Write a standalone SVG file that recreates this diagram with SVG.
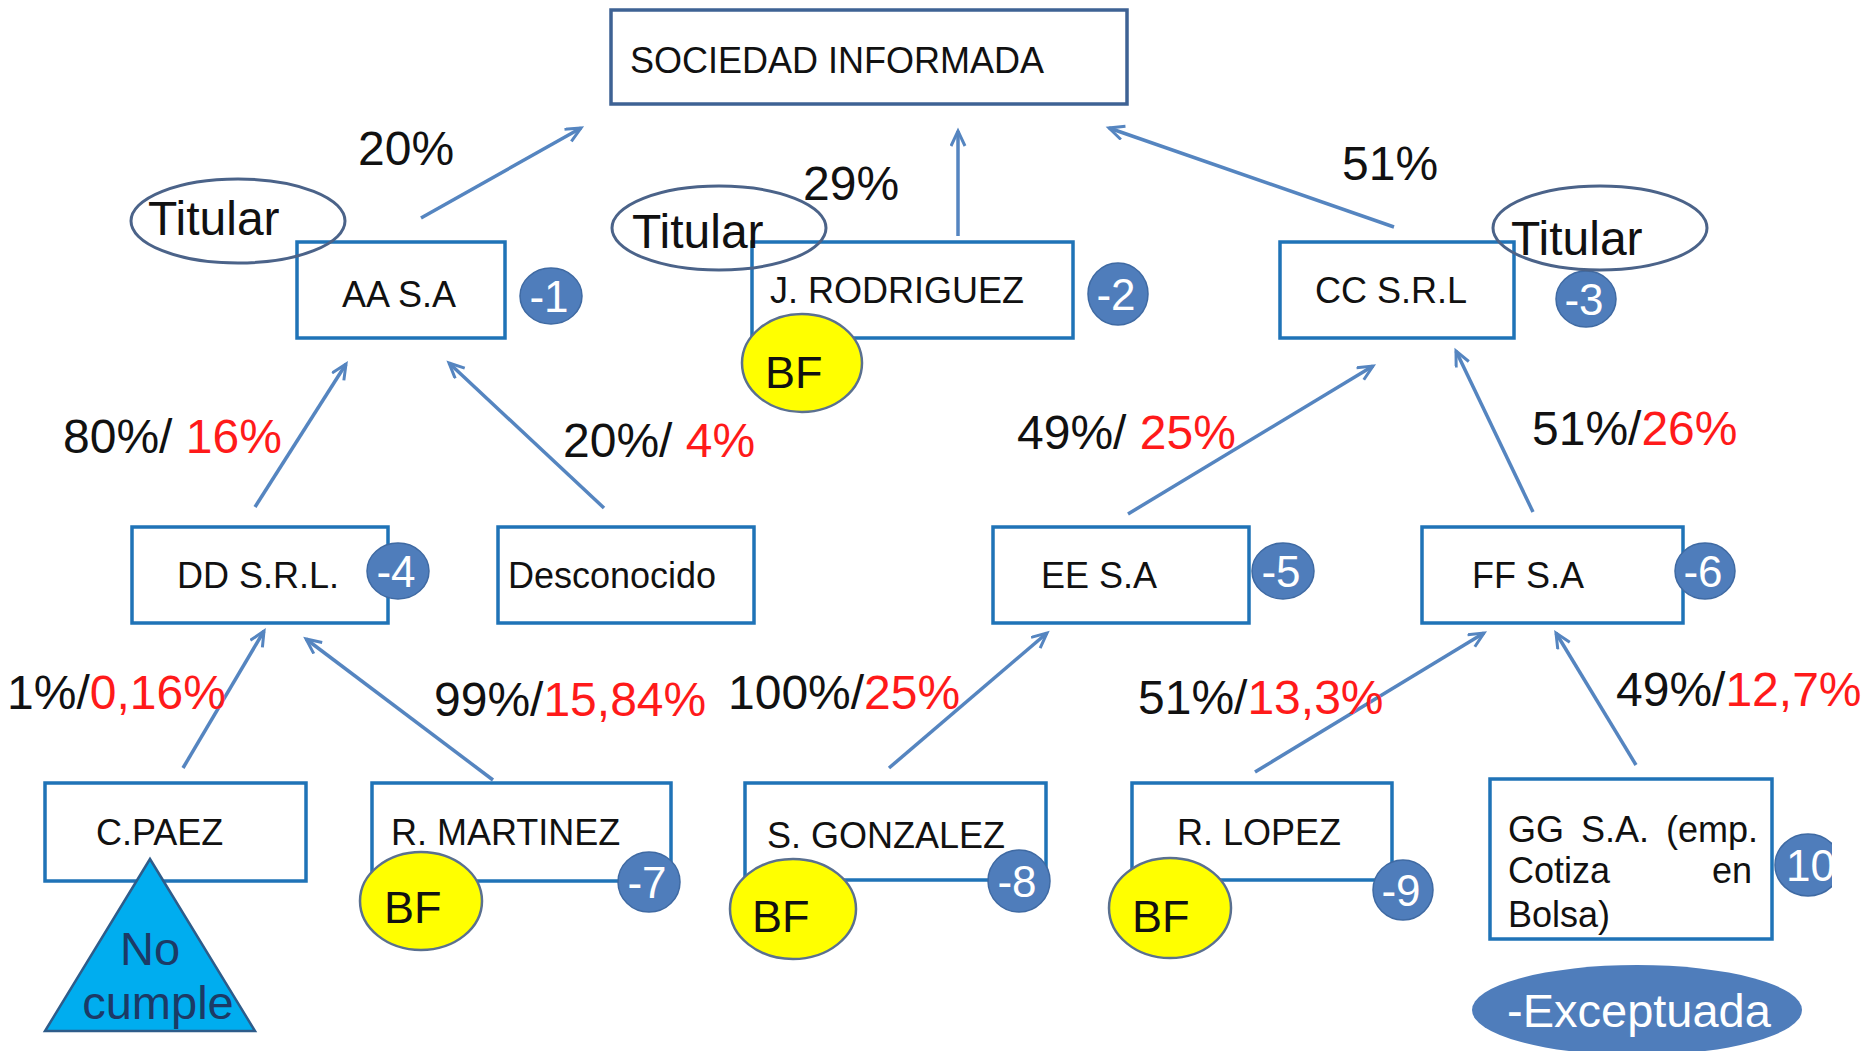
<svg xmlns="http://www.w3.org/2000/svg" width="1874" height="1051" viewBox="0 0 1874 1051">
<style>
text{font-family:"Liberation Sans",Arial,sans-serif;fill:#111}
.box{fill:#fff;stroke:#1F73B7;stroke-width:3.5}
.top{fill:#fff;stroke:#3E6294;stroke-width:3.5}
.lbl{font-size:36px}
.pct{font-size:48px}
.red{fill:#FF1A1A}
.tit{fill:none;stroke:#4B6389;stroke-width:3}
.titt{font-size:48px}
.badge{fill:#4F7DBB;stroke:#3F6AA3;stroke-width:1.5}
.bt{font-size:44px;fill:#fff;text-anchor:middle}
.bf{fill:#FFFF00;stroke:#5A7090;stroke-width:2.5}
.bft{font-size:45px}
.arr{stroke:#5585C0;stroke-width:3.5;fill:none;marker-end:url(#ah)}
</style>
<defs>
<marker id="ah" markerUnits="userSpaceOnUse" markerWidth="20" markerHeight="20" refX="16" refY="8" orient="auto">
<path d="M1,1 L16,8 L1,15" fill="none" stroke="#5585C0" stroke-width="3"/>
</marker>
<clipPath id="edge"><rect x="0" y="0" width="1832" height="1051"/></clipPath>
</defs>
<rect width="1874" height="1051" fill="#fff"/>

<g id="connectors">
<line class="arr" x1="421" y1="218" x2="581" y2="128"/>
<line class="arr" x1="958" y1="236" x2="958" y2="131"/>
<line class="arr" x1="1394" y1="227" x2="1109" y2="128"/>
<line class="arr" x1="255" y1="507" x2="346" y2="364"/>
<line class="arr" x1="604" y1="508" x2="449" y2="363"/>
<line class="arr" x1="1128" y1="514" x2="1373" y2="366"/>
<line class="arr" x1="1533" y1="512" x2="1456" y2="351"/>
<line class="arr" x1="183" y1="768" x2="264" y2="631"/>
<line class="arr" x1="493" y1="780" x2="306" y2="639"/>
<line class="arr" x1="889" y1="768" x2="1047" y2="633"/>
<line class="arr" x1="1255" y1="772" x2="1484" y2="633"/>
<line class="arr" x1="1636" y1="765" x2="1556" y2="633"/>
</g>

<g id="labels">
<text class="pct" x="358" y="165">20%</text>
<text class="pct" x="803" y="200">29%</text>
<text class="pct" x="1342" y="180">51%</text>
<text class="pct" x="63" y="453">80%/<tspan class="red"> 16%</tspan></text>
<text class="pct" x="563" y="457">20%/<tspan class="red"> 4%</tspan></text>
<text class="pct" x="1017" y="449">49%/<tspan class="red"> 25%</tspan></text>
<text class="pct" x="1532" y="445">51%/<tspan class="red">26%</tspan></text>
<text class="pct" x="7" y="709">1%/<tspan class="red">0,16%</tspan></text>
<text class="pct" x="434" y="716">99%/<tspan class="red">15,84%</tspan></text>
<text class="pct" x="728" y="709">100%/<tspan class="red">25%</tspan></text>
<text class="pct" x="1138" y="714">51%/<tspan class="red">13,3%</tspan></text>
<text class="pct" x="1616" y="706">49%/<tspan class="red">12,7%</tspan></text>
</g>

<g id="sociedad">
<rect class="top" x="611" y="10" width="516" height="94"/>
<text class="lbl" x="630" y="73">SOCIEDAD INFORMADA</text>
</g>

<g id="aa">
<rect class="box" x="297" y="242" width="208" height="96"/>
<text class="lbl" x="342" y="307">AA S.A</text>
<ellipse class="badge" cx="551" cy="296" rx="31" ry="28"/>
<text class="bt" x="549" y="312">-1</text>
<ellipse class="tit" cx="238" cy="221" rx="107" ry="42"/>
<text class="titt" x="148" y="235">Titular</text>
</g>

<g id="rodriguez">
<rect class="box" x="752" y="242" width="321" height="96"/>
<text class="lbl" x="770" y="303">J. RODRIGUEZ</text>
<ellipse class="badge" cx="1118" cy="294" rx="30" ry="31"/>
<text class="bt" x="1116" y="310">-2</text>
<ellipse class="tit" cx="719" cy="228" rx="107" ry="42"/>
<text class="titt" x="632" y="248">Titular</text>
<ellipse class="bf" cx="802" cy="363" rx="60" ry="49"/>
<text class="bft" x="765" y="388">BF</text>
</g>

<g id="cc">
<rect class="box" x="1280" y="242" width="234" height="96"/>
<text class="lbl" x="1315" y="303">CC S.R.L</text>
<ellipse class="badge" cx="1586" cy="299" rx="30" ry="28"/>
<text class="bt" x="1584" y="315">-3</text>
<ellipse class="tit" cx="1600" cy="228" rx="107" ry="42"/>
<text class="titt" x="1511" y="255">Titular</text>
</g>

<g id="dd">
<rect class="box" x="132" y="527" width="256" height="96"/>
<text class="lbl" x="177" y="588">DD S.R.L.</text>
<ellipse class="badge" cx="398" cy="571" rx="31" ry="28"/>
<text class="bt" x="396" y="587">-4</text>
</g>

<g id="desconocido">
<rect class="box" x="498" y="527" width="256" height="96"/>
<text class="lbl" x="508" y="588">Desconocido</text>
</g>

<g id="ee">
<rect class="box" x="993" y="527" width="256" height="96"/>
<text class="lbl" x="1041" y="588">EE S.A</text>
<ellipse class="badge" cx="1283" cy="571" rx="31" ry="28"/>
<text class="bt" x="1281" y="587">-5</text>
</g>

<g id="ff">
<rect class="box" x="1422" y="527" width="261" height="96"/>
<text class="lbl" x="1472" y="588">FF S.A</text>
<ellipse class="badge" cx="1705" cy="571" rx="30" ry="28"/>
<text class="bt" x="1703" y="587">-6</text>
</g>

<g id="paez">
<rect class="box" x="45" y="783" width="261" height="98"/>
<text class="lbl" x="96" y="845">C.PAEZ</text>
<polygon points="150,859 255,1031 45,1031" fill="#00ADEF" stroke="#2E5C8A" stroke-width="2.5"/>
<text x="150" y="965" font-size="47" text-anchor="middle" style="fill:#1C3A66">No</text>
<text x="158" y="1019" font-size="47" text-anchor="middle" style="fill:#1C3A66">cumple</text>
</g>

<g id="martinez">
<rect class="box" x="372" y="783" width="299" height="98"/>
<text class="lbl" x="391" y="845">R. MARTINEZ</text>
<ellipse class="bf" cx="421" cy="901" rx="61" ry="49"/>
<text class="bft" x="384" y="923">BF</text>
<ellipse class="badge" cx="649" cy="882" rx="31" ry="30"/>
<text class="bt" x="647" y="898">-7</text>
</g>

<g id="gonzalez">
<rect class="box" x="745" y="783" width="301" height="97"/>
<text class="lbl" x="767" y="848">S. GONZALEZ</text>
<ellipse class="bf" cx="793" cy="909" rx="63" ry="50"/>
<text class="bft" x="752" y="932">BF</text>
<ellipse class="badge" cx="1019" cy="881" rx="31" ry="31"/>
<text class="bt" x="1017" y="897">-8</text>
</g>

<g id="lopez">
<rect class="box" x="1132" y="783" width="260" height="97"/>
<text class="lbl" x="1177" y="845">R. LOPEZ</text>
<ellipse class="bf" cx="1170" cy="908" rx="61" ry="50"/>
<text class="bft" x="1132" y="932">BF</text>
<ellipse class="badge" cx="1403" cy="890" rx="30" ry="30"/>
<text class="bt" x="1401" y="906">-9</text>
</g>

<g id="gg">
<rect class="box" x="1490" y="779" width="282" height="160"/>
<text class="lbl" x="1508" y="842" word-spacing="7">GG S.A. (emp.</text>
<text class="lbl" x="1508" y="883">Cotiza</text>
<text class="lbl" x="1752" y="883" text-anchor="end">en</text>
<text class="lbl" x="1508" y="927">Bolsa)</text>
<g clip-path="url(#edge)">
<ellipse class="badge" cx="1808" cy="865" rx="33" ry="31"/>
<text x="1786" y="881" font-size="44" style="fill:#fff">10</text>
</g>
</g>

<g id="exceptuada">
<ellipse cx="1637" cy="1010" rx="165" ry="45" fill="#4F7DBB"/>
<text x="1507" y="1027" font-size="47" style="fill:#fff">-Exceptuada</text>
</g>
</svg>
